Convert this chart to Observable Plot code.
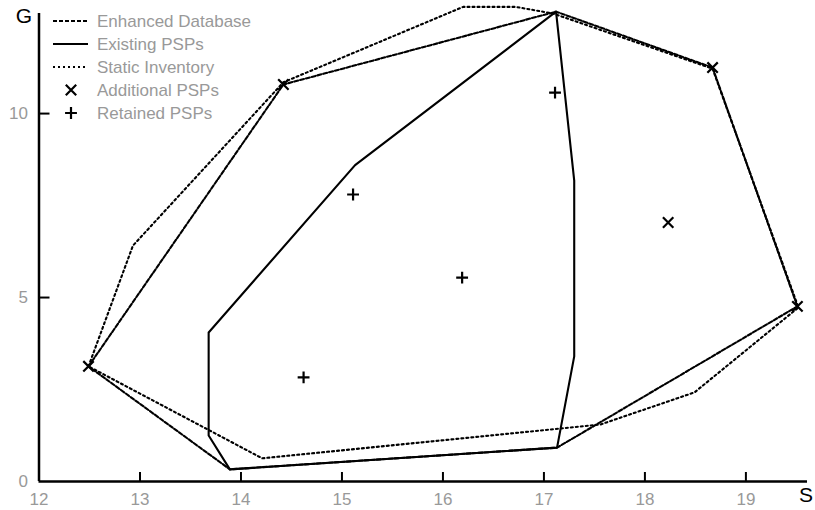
<!DOCTYPE html>
<html>
<head>
<meta charset="utf-8">
<script src="https://cdn.jsdelivr.net/npm/d3@7"></script>
<script src="https://cdn.jsdelivr.net/npm/@observablehq/plot@0.6"></script>
<style>
  html, body { margin: 0; padding: 0; background: white; }
  #wrap { position: relative; width: 815px; height: 510px; }
  #overlay { position: absolute; left: 0; top: 0; pointer-events: none; }
</style>
</head>
<body>
<div id="wrap"></div>
<script>
// ---- data (S on x, G on y) ----
const enhancedS = [12.49, 14.42, 17.12, 18.67, 19.51, 17.13, 13.89, 12.49];
const enhancedG = [3.13, 10.79, 12.77, 11.25, 4.76, 0.92, 0.33, 3.13];

const existingS = [13.89, 13.68, 13.68, 15.13, 17.12, 17.30, 17.30, 17.13, 13.89];
const existingG = [0.33, 1.25, 4.05, 8.60, 12.77, 8.18, 3.40, 0.92, 0.33];

const staticS = [12.49, 12.93, 14.42, 16.20, 16.72, 17.09, 18.67, 19.52, 18.49, 17.56, 14.21, 12.49];
const staticG = [3.13, 6.41, 10.85, 12.90, 12.90, 12.72, 11.22, 4.73, 2.42, 1.55, 0.63, 3.13];

const additionalS = [12.49, 14.42, 18.67, 19.51, 18.23];
const additionalG = [3.13, 10.79, 11.25, 4.76, 7.04];

const retainedS = [17.11, 15.11, 16.19, 14.62];
const retainedG = [10.57, 7.80, 5.54, 2.83];

const xTicks = [12, 13, 14, 15, 16, 17, 18, 19];
const yTicks = [0, 5, 10];
const xAxisName = "S";
const yAxisName = "G";

const legendItems = [
  {label: "Enhanced Database", kind: "line", dash: "4,2"},
  {label: "Existing PSPs", kind: "line", dash: null},
  {label: "Static Inventory", kind: "line", dash: "2,3"},
  {label: "Additional PSPs", kind: "times"},
  {label: "Retained PSPs", kind: "plus"}
];

const toRows = (xs, ys) => xs.map((s, i) => ({S: s, G: ys[i]}));
const enhanced = toRows(enhancedS, enhancedG);
const existing = toRows(existingS, existingG);
const staticInv = toRows(staticS, staticG);
const additional = toRows(additionalS, additionalG);
const retained = toRows(retainedS, retainedG);

const FONT = "'Liberation Sans', Arial, sans-serif";
const rTimes = 4.8, rPlus = 3.9;

const chart = Plot.plot({
  width: 815,
  height: 510,
  marginLeft: 38.5,
  marginRight: 8,
  marginTop: 13,
  marginBottom: 29,
  x: {domain: [12, 19.61]},
  y: {domain: [0, 12.72]},
  style: {fontFamily: FONT, fontSize: "17px", background: "white"},
  marks: [
    Plot.line(staticInv, {x: "S", y: "G", stroke: "black", strokeWidth: 2.1, strokeDasharray: "2,3"}),
    Plot.line(enhanced, {x: "S", y: "G", stroke: "black", strokeWidth: 2.1, strokeDasharray: "4,2"}),
    Plot.line(existing, {x: "S", y: "G", stroke: "black", strokeWidth: 2.1}),
    Plot.dot(additional, {x: "S", y: "G", symbol: "times", r: rTimes, stroke: "black", strokeWidth: 2.2}),
    Plot.dot(retained, {x: "S", y: "G", symbol: "plus", r: rPlus, stroke: "black", strokeWidth: 2.2}),
    // axes
    Plot.axisX({ticks: xTicks.slice(1), tickSize: 9, dy: -9, tickFormat: () => "", label: null, stroke: "black", strokeWidth: 2}),
    Plot.axisX({ticks: xTicks, tickSize: 0, tickPadding: 11, label: null, fill: "#999"}),
    Plot.axisY({ticks: yTicks.slice(1), tickSize: 11, dx: 11, tickFormat: () => "", label: null, stroke: "black", strokeWidth: 2}),
    Plot.axisY({ticks: yTicks, tickSize: 0, tickPadding: 11, label: null, fill: "#999"}),
    Plot.ruleY([0], {stroke: "black", strokeWidth: 2.5}),
    Plot.ruleX([12], {stroke: "black", strokeWidth: 2.5})
  ]
});

const wrap = document.getElementById("wrap");
wrap.appendChild(chart);

// overlay: legend and axis names
const ov = d3.select(wrap).append("svg")
  .attr("id", "overlay")
  .attr("width", 815).attr("height", 510)
  .style("font-family", FONT);

ov.append("text").attr("x", 24).attr("y", 16).attr("dy", "0.35em")
  .attr("text-anchor", "middle").attr("font-size", 21).attr("fill", "black").text(yAxisName);
ov.append("text").attr("x", 806).attr("y", 495).attr("dy", "0.35em")
  .attr("text-anchor", "middle").attr("font-size", 21).attr("fill", "black").text(xAxisName);

legendItems.forEach((it, i) => {
  const y = 21 + i * 23;
  const g = ov.append("g").attr("transform", `translate(0,${y})`);
  if (it.kind === "line") {
    const l = g.append("line").attr("x1", 53).attr("x2", 88).attr("y1", 0).attr("y2", 0)
      .attr("stroke", "black").attr("stroke-width", 2.1);
    if (it.dash) l.attr("stroke-dasharray", it.dash);
  } else {
    const sym = it.kind === "times" ? d3.symbolTimes : d3.symbolPlus;
    const r = it.kind === "times" ? rTimes : rPlus;
    g.append("path").attr("d", d3.symbol(sym, Math.PI * r * r)()).attr("transform", "translate(71,0)")
      .attr("fill", "none").attr("stroke", "black").attr("stroke-width", 2.2);
  }
  g.append("text").attr("x", 97).attr("y", 0).attr("dy", "0.35em")
    .attr("font-size", 17).attr("fill", "#999").text(it.label);
});
</script>
</body>
</html>
